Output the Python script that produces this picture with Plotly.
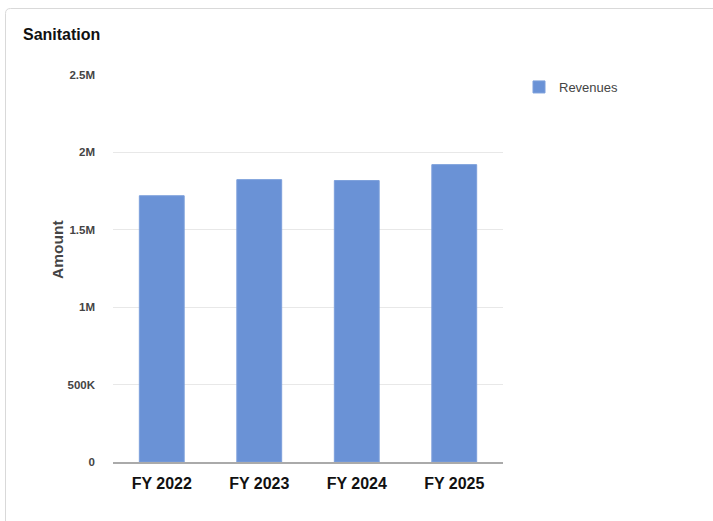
import plotly.graph_objects as go

# Revenue by fiscal year for the Sanitation fund
years = ["FY 2022", "FY 2023", "FY 2024", "FY 2025"]
revenues = [1720000, 1824000, 1818000, 1921000]
tick_vals = [0, 500000, 1000000, 1500000, 2000000, 2500000]
tick_text = ["0", "500K", "1M", "1.5M", "2M", "2.5M"]

FONT = "Liberation Sans, Arial, sans-serif"
W, H = 713, 521
L, R, T, B = 113, 210, 75, 59
pw, ph = W - L - R, H - T - B


def px_x(p):
    return (p - L) / pw


def px_y(p):
    return (H - B - p) / ph


fig = go.Figure()
fig.add_trace(go.Bar(
    x=years, y=revenues, name="Revenues",
    marker=dict(color="#6a92d6", line=dict(color="#7c9fdb", width=1)),
    showlegend=True,
))

# card outline: top and left edges with a rounded corner
x0, y0, r = px_x(5.5), px_y(8.5), 5
path = (f"M {px_x(5.5)},{px_y(H + 5)} L {x0},{px_y(8.5 + r)} "
        f"Q {x0},{y0} {px_x(5.5 + r)},{y0} L {px_x(W + 5)},{y0}")

fig.update_layout(
    width=W, height=H,
    margin=dict(l=L, r=R, t=T, b=B, pad=0),
    paper_bgcolor="white", plot_bgcolor="white",
    font=dict(family=FONT, color="#444"),
    bargap=0.54,
    showlegend=True,
    legend=dict(x=px_x(519), y=px_y(72), xanchor="left", yanchor="top",
                font=dict(size=13, color="#444", family=FONT),
                itemwidth=30, bgcolor="rgba(0,0,0,0)"),
    xaxis=dict(tickfont=dict(size=16, color="#111", family=FONT, weight="bold"),
               showline=True, linecolor="#aaaaaa", linewidth=2,
               ticks="", showgrid=False, fixedrange=True,
               ticklabelstandoff=6),
    yaxis=dict(range=[0, 2500000], tickvals=tick_vals, ticktext=tick_text,
               tickfont=dict(size=11.5, color="#444", family=FONT, weight="bold"),
               showgrid=True, gridcolor="#e8e8e8", gridwidth=1,
               zeroline=False, showline=False, ticks="",
               ticklabelstandoff=17, fixedrange=True),
    shapes=[dict(type="path", path=path, xref="paper", yref="paper",
                 line=dict(color="#d9d9d9", width=1), layer="below")],
    annotations=[
        dict(text="<b>Sanitation</b>", xref="paper", yref="paper",
             x=px_x(21), y=px_y(35), xanchor="left", yanchor="middle",
             showarrow=False, font=dict(size=16, color="#111", family=FONT)),
        dict(text="<b>Amount</b>", xref="paper", yref="paper",
             x=px_x(57), y=px_y(250), xanchor="center", yanchor="middle",
             textangle=-90, showarrow=False,
             font=dict(size=15.5, color="#444", family=FONT)),
    ],
)

fig.write_html("out.html")
